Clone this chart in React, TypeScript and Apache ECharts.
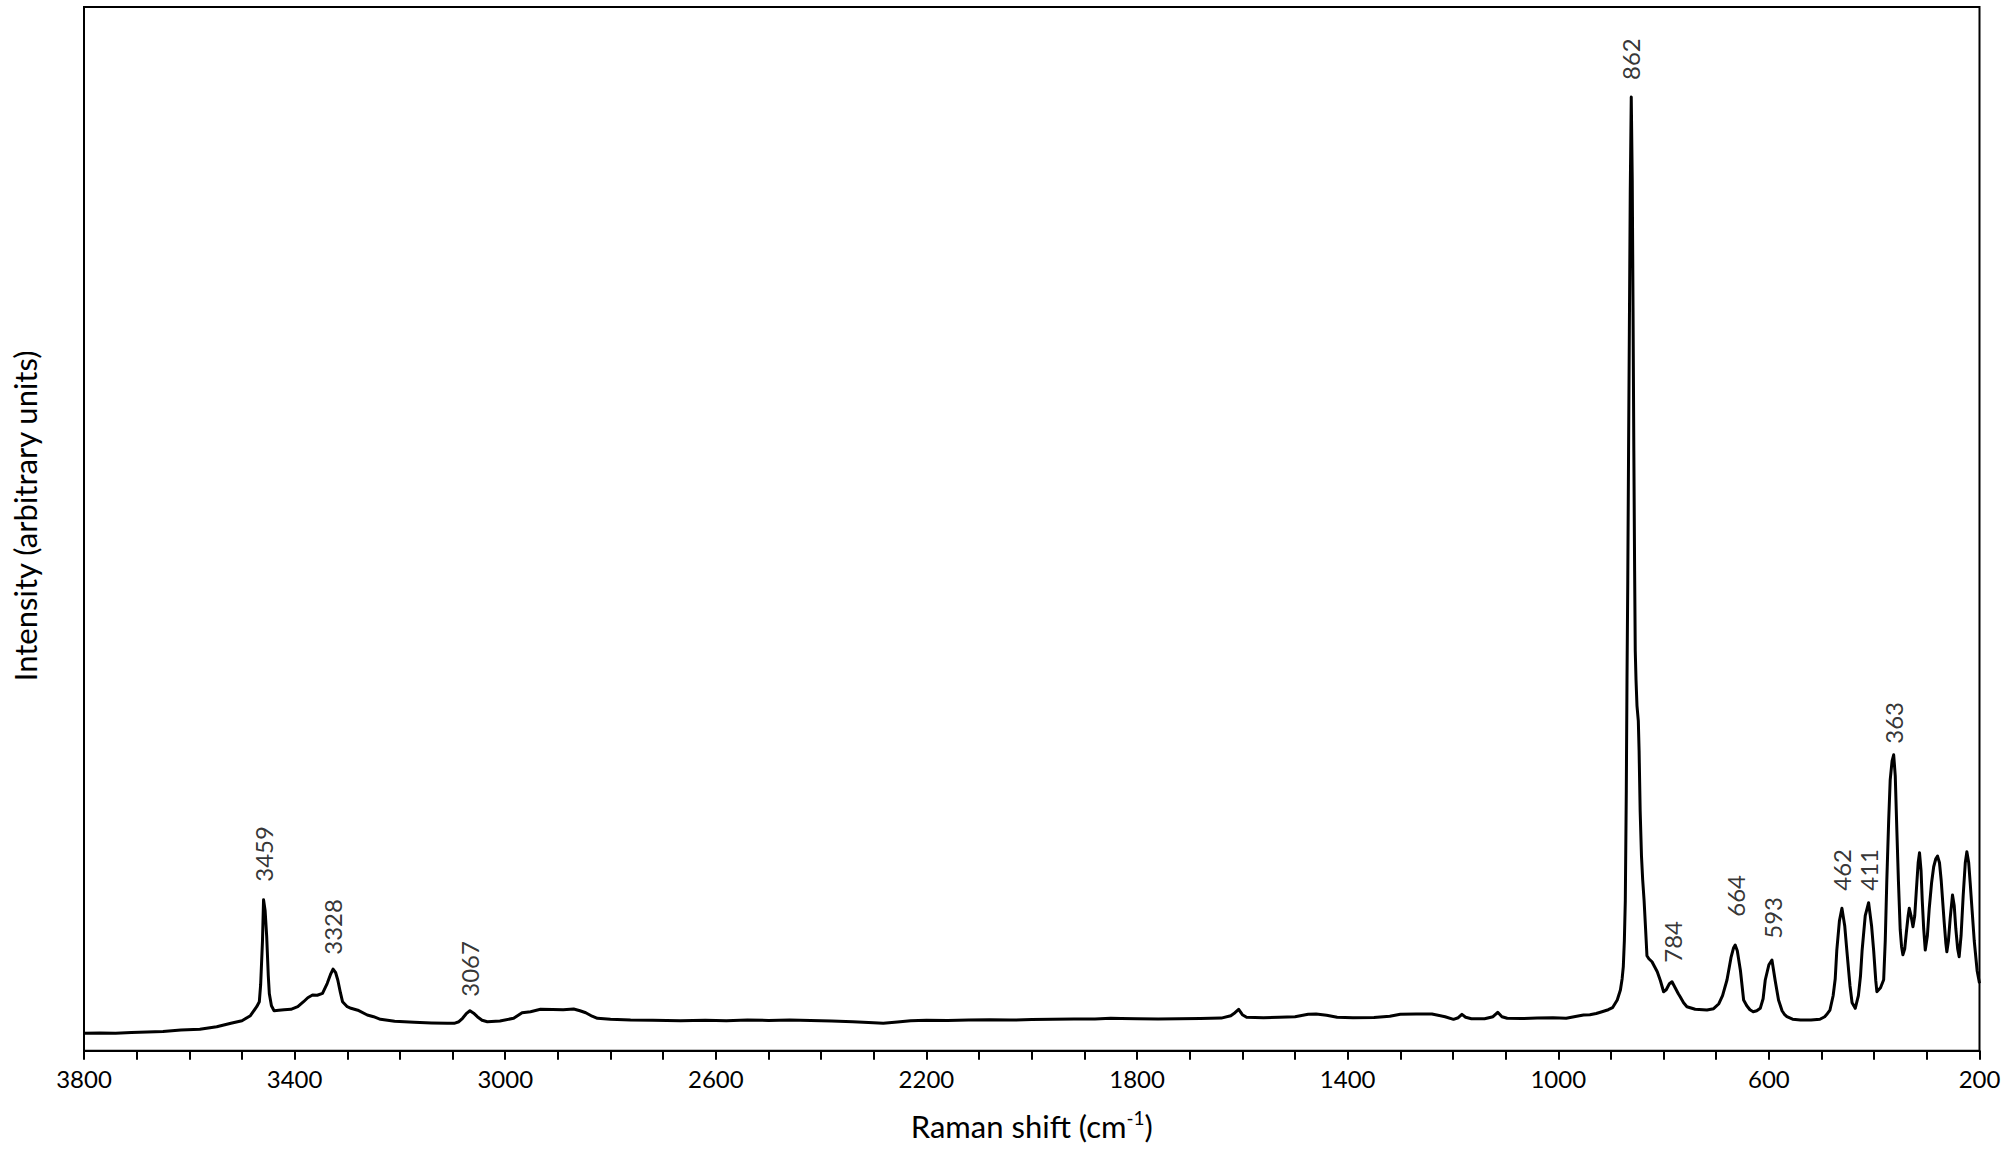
import React, { useEffect, useRef } from "react";
import * as echarts from "echarts";

// Raman shift (cm-1) and intensity (arbitrary units)
const shift: number[] = [
  3800, 3770, 3740, 3710, 3680, 3650, 3616, 3580, 3548, 3521, 3500, 3484, 3472, 3467, 3464.5, 3461, 3459, 3456, 3453, 3450,
  3448, 3444, 3439, 3430, 3420, 3407, 3394, 3383, 3375, 3366, 3357, 3347, 3338, 3332, 3327, 3322, 3318, 3313, 3309, 3300,
  3293, 3280, 3262, 3250, 3237, 3210, 3173, 3140, 3110, 3097, 3088, 3081, 3074, 3067, 3060, 3053, 3044, 3034, 3010, 2984,
  2968, 2952, 2933, 2910, 2890, 2870, 2858, 2847, 2835, 2825, 2800, 2762, 2720, 2667, 2620, 2580, 2540, 2500, 2460, 2420,
  2380, 2340, 2310, 2282, 2255, 2230, 2200, 2160, 2120, 2080, 2040, 2000, 1960, 1920, 1880, 1850, 1830, 1800, 1760, 1720,
  1680, 1640, 1622, 1614, 1607, 1600, 1592, 1560, 1530, 1500, 1475, 1460, 1440, 1420, 1390, 1350, 1320, 1300, 1270, 1240,
  1215, 1199, 1190, 1183, 1176, 1165, 1140, 1124, 1115, 1107, 1097, 1070, 1040, 1010, 985, 965, 952, 940, 928, 920,
  905, 897, 888, 882, 878.7, 876.5, 874.5, 872.7, 870.8, 869.5, 868, 866.5, 865, 863.3, 861.4, 859.5, 858, 856.5, 855, 853.8,
  852.3, 850.5, 848, 846.5, 844.5, 842, 839.7, 837, 834, 831.6, 828, 822, 817, 812, 806, 800, 795, 789, 784, 778,
  772, 768.5, 762, 755.7, 740, 717.6, 705, 695, 688, 679.6, 672, 667, 664, 660, 654, 648, 642, 636, 629.8, 623,
  616.4, 611, 606.9, 600, 594.2, 588, 581.7, 575, 570, 565.8, 555, 540, 520, 503, 494, 489, 484, 478, 474, 471,
  466, 461.3, 456, 452, 446, 442, 436, 430, 426, 423, 417, 410.6, 405, 401, 397, 394.9, 388, 382, 379, 376,
  372.5, 369.6, 366, 363, 360, 357, 354, 350.6, 348, 345.5, 342, 339, 335.5, 333.4, 330, 326.4, 323, 320, 316.5, 313.9,
  311, 308.7, 306, 303, 299, 295.5, 291, 287, 283, 279.7, 276, 272.7, 270, 267, 264, 262, 259, 255.7, 251.3, 248,
  245, 241.5, 238.6, 235, 231, 227, 224, 220.5, 217.7, 214, 210, 204.5, 200,
];

const intensity: number[] = [
  17.4, 17.8, 17.5, 18.3, 18.6, 19.2, 20.7, 21.5, 24, 27.4, 30, 35, 44, 49, 66, 110, 151, 140, 114, 75,
  57, 45, 40, 40.5, 41, 41.4, 44, 49, 53, 55.7, 55.5, 57.4, 67.4, 76, 81.7, 78, 70.7, 58, 49, 44,
  42.4, 40.5, 35.7, 34, 31.4, 29.5, 28.4, 27.8, 27.4, 27.4, 29, 32.4, 37, 40, 37.5, 34, 30.5, 29, 29.8, 32.4,
  38, 39, 41.4, 41.3, 41, 41.7, 40, 38, 34.5, 32.4, 31.5, 30.7, 30.4, 30, 30.5, 30, 30.6, 30.3, 30.8, 30.2,
  29.6, 29, 28.2, 27.4, 28.6, 30, 30.4, 30.2, 30.7, 31, 30.6, 31.2, 31.4, 31.6, 31.8, 32.4, 32.2, 32, 31.6, 32,
  32.2, 32.6, 35, 38, 41.4, 36, 33.5, 33, 33.4, 34, 36.4, 36.7, 35.5, 33.4, 33, 33.2, 34.5, 36.4, 36.6, 36.8,
  34, 31.4, 33, 36.4, 33.5, 32, 32, 34, 38.4, 34, 32.4, 32.2, 32.6, 33, 32.4, 34.5, 35.7, 36, 37.2, 38.5,
  41, 43, 50.7, 60.7, 72, 84, 110, 150, 260, 370, 470, 600, 720, 860, 954, 870, 740, 600, 480, 400,
  370, 345, 330, 300, 240, 195, 171, 150, 120, 95, 92, 89, 84, 79, 70, 59, 61, 67, 69, 63,
  57, 54, 48, 44, 41.5, 40.7, 42, 47, 55, 70.7, 93, 103, 105.7, 100, 80, 50.7, 45, 41, 39, 40,
  42.4, 52, 70.7, 86, 90.7, 70, 50.7, 40, 36, 34, 31.5, 30.7, 30.6, 31.5, 34, 37, 40.7, 55, 72, 100.7,
  130, 142.4, 125, 100.7, 65, 48, 42.4, 55, 75, 100, 135, 148, 125, 100, 70, 59, 63, 71, 110, 171,
  230, 271, 290, 296, 275, 221, 170, 121, 104, 96, 102, 118, 135, 142.4, 135, 124, 135, 160, 188, 198,
  180, 150, 122, 100.7, 115, 142, 168, 184, 192, 194.7, 188, 170, 150, 128, 108, 99, 110, 132, 155.7, 145,
  122, 102, 94, 115, 155, 188, 199, 188, 168, 140, 110, 80, 67.4,
];

// Peak annotations: label, and the intensity level where the rotated label starts
const peakLabels: string[] = ["3459", "3328", "3067", "862", "784", "664", "593", "462", "411", "363"];
const peakShift: number[] = [3459, 3328, 3067, 862, 784, 664, 593, 462, 411, 363];
const labelBase: number[] = [169, 96, 54, 971, 88, 134, 112, 160, 160, 307];

const xMin = 200;
const xMax = 3800;
const xInterval = 400;
const yMax = 1044;

const FONT = "Lato";

export default function App() {
  const ref = useRef<HTMLDivElement>(null);

  useEffect(() => {
    if (!ref.current) return;
    const chart = echarts.init(ref.current, null, { renderer: "svg" });

    const spectrum = shift.map((s, i) => [s, intensity[i]]);
    const labels = peakLabels.map((name, i) => ({ name, value: [peakShift[i], labelBase[i]] }));

    chart.setOption({
      animation: false,
      backgroundColor: "#ffffff",
      textStyle: { fontFamily: FONT },
      grid: {
        left: 84,
        right: 28.5,
        top: 7,
        bottom: 99.3,
        show: true,
        borderColor: "#000",
        borderWidth: 2,
        backgroundColor: "transparent",
      },
      xAxis: {
        type: "value",
        min: xMin,
        max: xMax,
        interval: xInterval,
        inverse: true,
        name: "{a|Raman shift (cm}{s|-1}{a|)}",
        nameLocation: "middle",
        nameGap: 57,
        nameTextStyle: {
          color: "#000",
          fontFamily: FONT,
          fontSize: 31,
          rich: {
            a: { fontFamily: FONT, fontSize: 31, color: "#000", lineHeight: 36 },
            s: { fontFamily: FONT, fontSize: 19, color: "#000", lineHeight: 20, verticalAlign: "top" },
          },
        },
        axisLine: { show: true, lineStyle: { color: "#000", width: 2 } },
        axisTick: { show: true, length: 9, lineStyle: { color: "#000", width: 2 } },
        minorTick: { show: true, splitNumber: 4, length: 9, lineStyle: { color: "#000", width: 2 } },
        axisLabel: {
          color: "#000",
          fontFamily: FONT,
          fontSize: 24,
          margin: 16,
          formatter: (v: number) => String(v),
        },
        splitLine: { show: false },
        minorSplitLine: { show: false },
      },
      yAxis: {
        type: "value",
        min: 0,
        max: yMax,
        name: "Intensity (arbitrary units)",
        nameLocation: "middle",
        nameGap: 44,
        nameTextStyle: { color: "#000", fontFamily: FONT, fontSize: 31, padding: [0, 0, 0, 26] },
        axisLine: { show: true, lineStyle: { color: "#000", width: 2 } },
        axisTick: { show: false },
        axisLabel: { show: false },
        splitLine: { show: false },
      },
      series: [
        {
          type: "line",
          data: spectrum,
          showSymbol: false,
          symbol: "none",
          lineStyle: { color: "#000", width: 3, join: "round" },
          z: 3,
        },
        {
          type: "scatter",
          data: labels,
          symbolSize: 1,
          itemStyle: { color: "rgba(0,0,0,0)" },
          label: {
            show: true,
            formatter: "{b}",
            position: "inside",
            align: "left",
            verticalAlign: "middle",
            rotate: 90,
            color: "#000",
            fontFamily: FONT,
            fontSize: 24,
          },
          z: 4,
        },
      ],
    });

    return () => chart.dispose();
  }, []);

  return (
    <div
      ref={ref}
      style={{ position: "absolute", left: 0, top: 0, width: 2008, height: 1150, background: "#fff" }}
    />
  );
}
